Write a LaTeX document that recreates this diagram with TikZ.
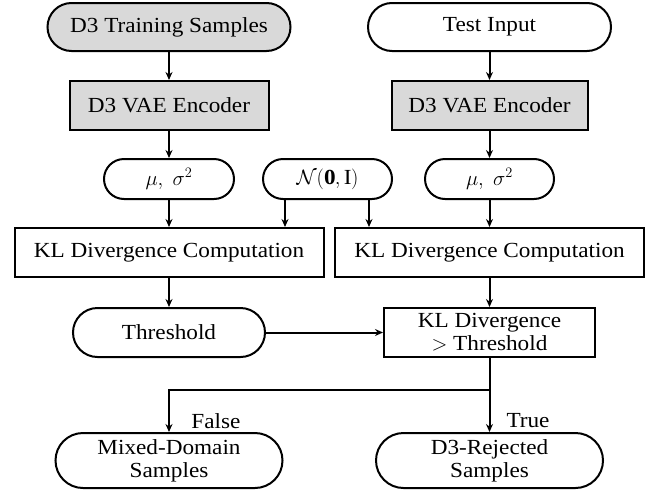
\documentclass[tikz,border=0pt]{standalone}
\usepackage{fontspec}
\setmainfont[FakeStretch=1.08]{Liberation Serif}
\usetikzlibrary{arrows.meta}
\definecolor{boxgray}{HTML}{D9D9D9}
\tikzset{
  base/.style={draw=black, line width=2pt, align=center, inner sep=0pt,
    font=\fontsize{21.5}{23}\selectfont},
  pill/.style={base, rectangle, rounded corners=#1},
  pill/.default=20pt,
  sqbox/.style={base, rectangle},
  gfill/.style={fill=boxgray},
  arr/.style={line width=2pt, -{Stealth[length=8pt,width=7pt]}},
  ln/.style={line width=2pt},
  lbl/.style={font=\fontsize{21.5}{23}\selectfont, inner sep=0pt}
}
\begin{document}
\begin{tikzpicture}[x=1pt,y=-1pt]
\useasboundingbox (0,0) rectangle (652,490);
% left column
\node[pill=24pt, gfill, minimum width=243pt, minimum height=48pt] (ts) at (169,27) {D3 Training Samples};
\node[sqbox, gfill, minimum width=199pt, minimum height=49pt] (enc1) at (169,105.5) {D3 VAE Encoder};
\node[pill=20pt, minimum width=130pt, minimum height=40pt] (mu1) at (169,179) {$\mu,\ \sigma^2$};
\node[pill=20pt, minimum width=129pt, minimum height=40pt] (nn) at (327.5,179) {$\mathcal{N}(\mathbf{0},\mathrm{I})$};
\node[sqbox, minimum width=309pt, minimum height=49pt] (kl1) at (169,252.5) {KL Divergence Computation};
\node[pill=24.5pt, minimum width=192pt, minimum height=49pt] (th) at (169,332.5) {Threshold};
\node[pill=27.5pt, minimum width=227pt, minimum height=55pt] (mix) at (169,460.5) {Mixed-Domain\\Samples};
% right column
\node[pill=24pt, minimum width=243pt, minimum height=48pt] (ti) at (489.5,27) {Test Input};
\node[sqbox, gfill, minimum width=196pt, minimum height=49pt] (enc2) at (489.5,105.5) {D3 VAE Encoder};
\node[pill=20pt, minimum width=129pt, minimum height=40pt] (mu2) at (489.5,179) {$\mu,\ \sigma^2$};
\node[sqbox, minimum width=309pt, minimum height=49pt] (kl2) at (489.5,252.5) {KL Divergence Computation};
\node[sqbox, minimum width=211pt, minimum height=49pt] (dec) at (489.5,332.5) {KL Divergence\\$>$ Threshold};
\node[pill=27.5pt, minimum width=227pt, minimum height=55pt] (rej) at (489.5,460.5) {D3-Rejected\\Samples};
% labels
\node[lbl] (lf) at (216,421) {False};
\node[lbl] (lt) at (528,421) {True};
% connectors
\draw[arr] (ts) -- (enc1);
\draw[arr] (enc1) -- (mu1);
\draw[arr] (mu1) -- (kl1);
\draw[arr] (kl1) -- (th);
\draw[arr] (ti) -- (enc2);
\draw[arr] (enc2) -- (mu2);
\draw[arr] (mu2) -- (kl2);
\draw[arr] (kl2) -- (dec);
\coordinate (n1) at ([xshift=-42.5pt]nn.south);
\coordinate (n2) at ([xshift=41.5pt]nn.south);
\draw[arr] (n1) -- (n1 |- kl1.north);
\draw[arr] (n2) -- (n2 |- kl2.north);
\draw[arr] (th.east) -- (th.east -| dec.west);
\coordinate (j) at (489.5,390);
\draw[ln] (dec.south) -- (j);
\draw[arr] (j) -- (rej.north);
\draw[arr] (j) -- (j -| mix.north) -- (mix.north);
\end{tikzpicture}
\end{document}
